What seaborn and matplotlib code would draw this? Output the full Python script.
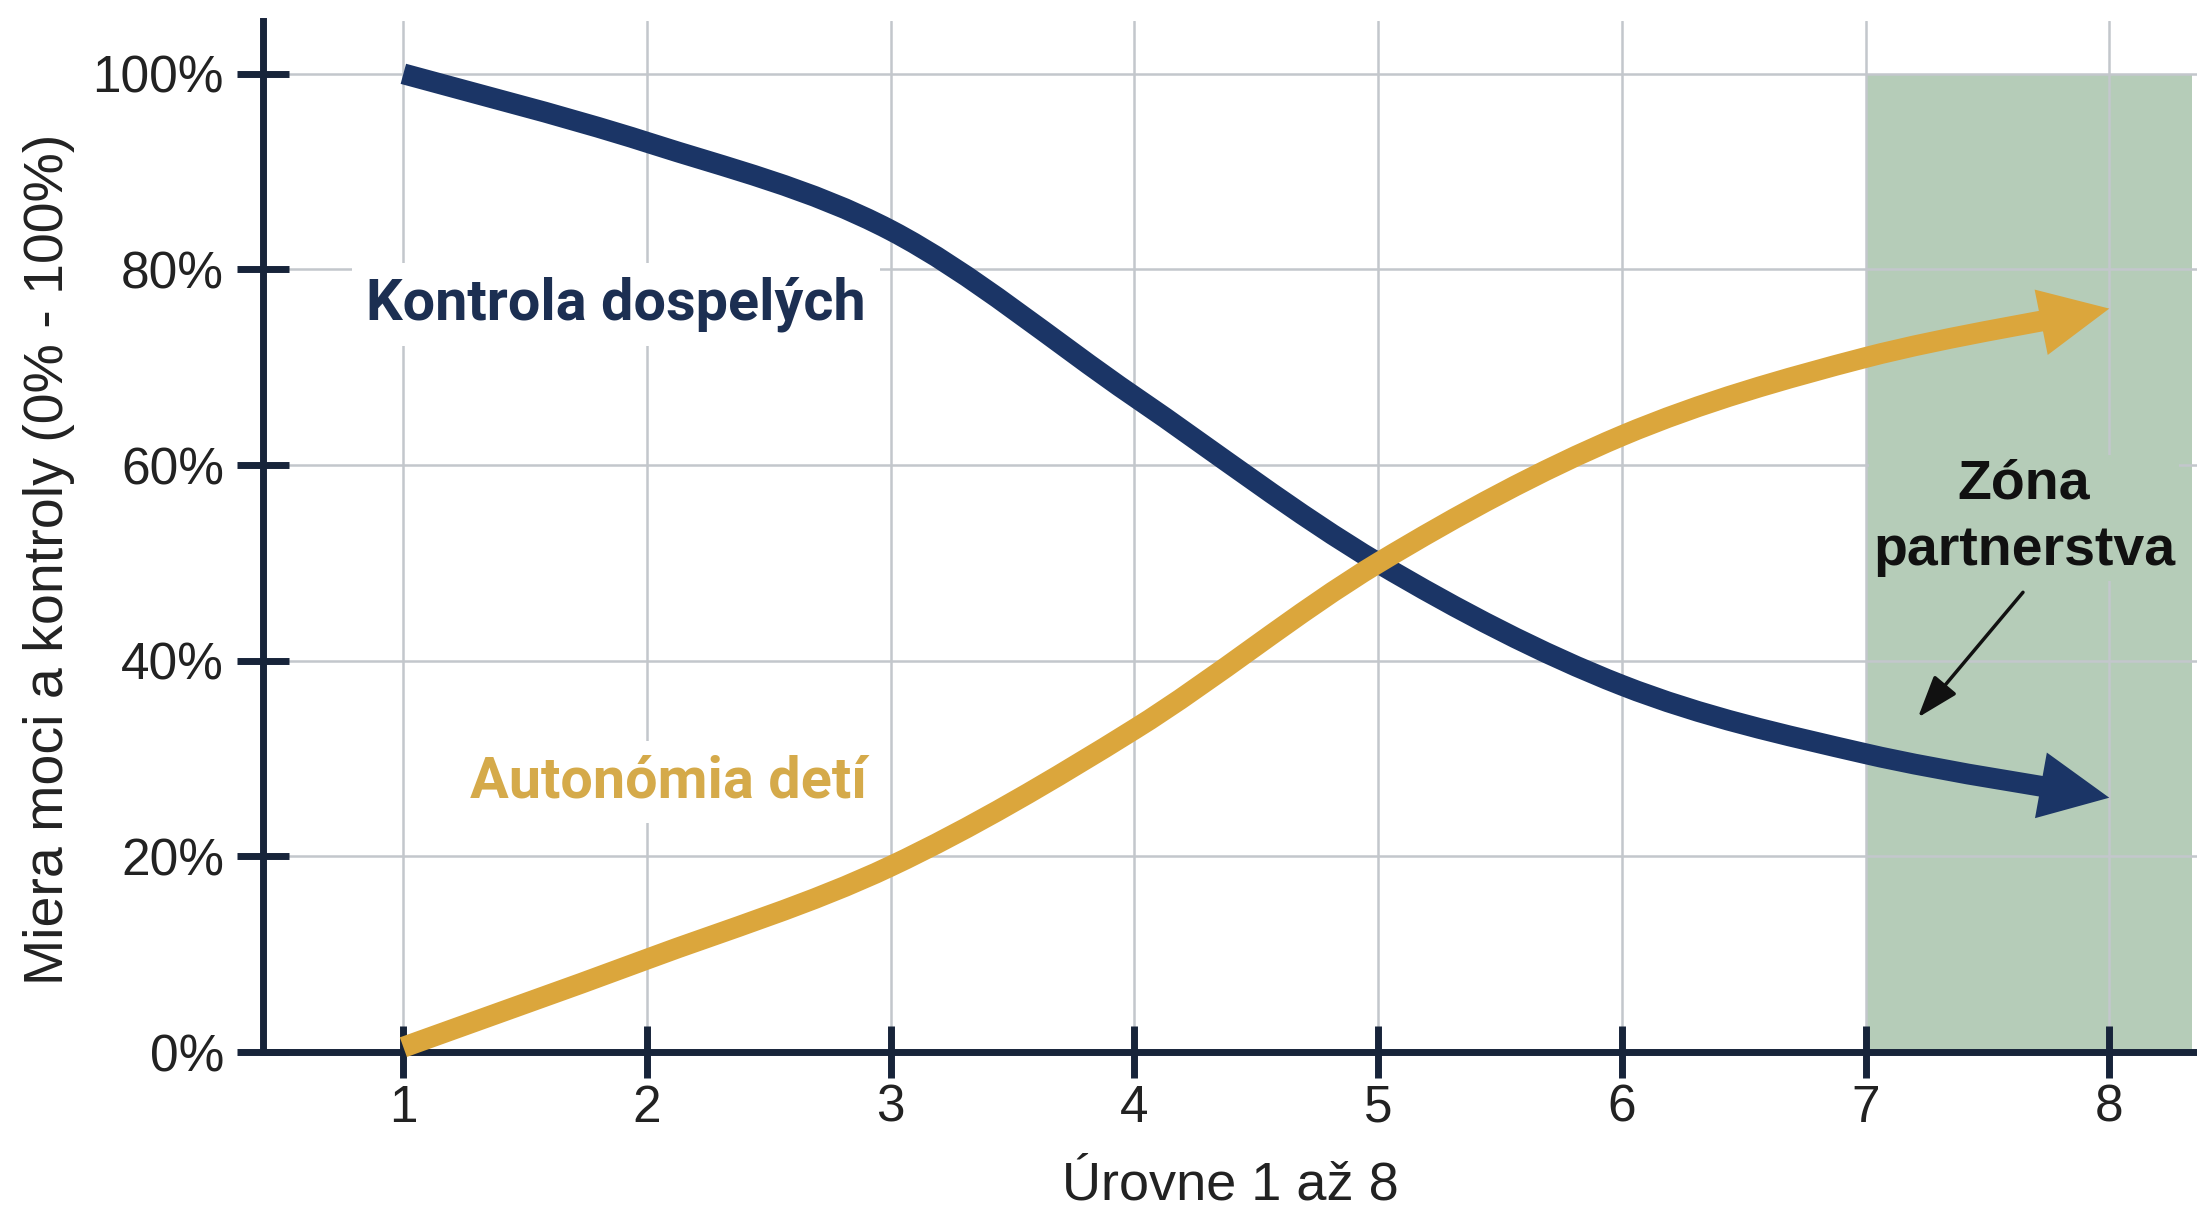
import numpy as np
import matplotlib
matplotlib.use("Agg")
import matplotlib.pyplot as plt
from matplotlib.path import Path
from matplotlib.patches import PathPatch, Rectangle
import seaborn as sns

# data
levels = [1, 2, 3, 4, 5, 6, 7, 8]
kontrola = [100, 93, 84, 67, 50, 37.5, 30.5, 26]
autonomia = [0.5, 9.5, 19, 33, 50, 63, 71, 76]
y_ticks = [0, 20, 40, 60, 80, 100]
y_labels = ["0%", "20%", "40%", "60%", "80%", "100%"]

navy = "#1b3566"
gold = "#dba63c"
axis_col = "#17243a"
zone_col = "#b5ccb8"

sns.set_theme(style="whitegrid")
plt.rcParams["font.family"] = ["Liberation Sans", "DejaVu Sans"]


def smooth_path(xs, ys):
    # catmull-rom through the points, written as cubic bezier segments
    pts = np.column_stack([xs, ys]).astype(float)
    n = len(pts)
    verts = [pts[0]]
    codes = [Path.MOVETO]
    for i in range(n - 1):
        p0 = pts[max(i - 1, 0)]
        p3 = pts[min(i + 2, n - 1)]
        c1 = pts[i] + (pts[i + 1] - p0) / 6
        c2 = pts[i + 1] - (p3 - pts[i]) / 6
        verts += [c1, c2, pts[i + 1]]
        codes += [Path.CURVE4] * 3
    return Path(verts, codes)


fig = plt.figure(figsize=(21.97, 12.14), dpi=100)
ax = fig.add_axes([0.1197, 0.1334, 0.8803, 0.8493])
ax.set_xlim(0.424, 8.36)
ax.set_ylim(0, 105.4)
ax.set_axisbelow(True)

# partnership zone
ax.fill_between([7, 8.34], 0, 100, color=zone_col, lw=0, zorder=0.3)


def arrow_curve(ys, color):
    body = PathPatch(smooth_path(levels, ys), fill=False, lw=15, edgecolor=color,
                     capstyle="butt", joinstyle="round", zorder=3)
    ax.add_patch(body)
    clip = Rectangle((0, -50), 7.8, 200, transform=ax.transData)
    body.set_clip_path(clip)
    ax.annotate("", xy=(levels[-1], ys[-1]), xytext=(levels[-2], ys[-2]),
                arrowprops=dict(arrowstyle="-|>,head_length=5.0,head_width=2.4",
                                mutation_scale=10, lw=0, color=color,
                                shrinkA=0, shrinkB=0),
                zorder=4)


arrow_curve(kontrola, navy)
arrow_curve(autonomia, gold)

ax.text(1.873, 76.4, "Kontrola dospelých", ha="center", va="center", fontsize=41.5,
        weight="bold", color="#1c2f52", family=["Roboto", "DejaVu Sans"], zorder=5,
        bbox=dict(fc="white", ec="none", pad=10))
ax.text(2.086, 27.6, "Autonómia detí", ha="center", va="center", fontsize=41.5,
        weight="bold", color="#d5aa4a", family=["Roboto", "DejaVu Sans"], zorder=5,
        bbox=dict(fc="white", ec="none", pad=10))
ax.text(7.65, 54.6, "Zóna\npartnerstva", ha="center", va="center", fontsize=40,
        weight="bold", color="#111111", linespacing=1.35, zorder=5,
        bbox=dict(fc=zone_col, ec="none", pad=3))
ax.annotate("", xy=(7.215, 34.2), xytext=(7.646, 47.0),
            arrowprops=dict(arrowstyle="-|>,head_length=2.6,head_width=0.9",
                            mutation_scale=10, lw=2.5, color="#111111",
                            shrinkA=0, shrinkB=0),
            zorder=5)

ax.set_xticks(levels)
ax.set_yticks(y_ticks)
ax.set_yticklabels(y_labels)
ax.grid(True, color="#c3c7cc", lw=1.8)

sns.despine(ax=ax)
for s in ["left", "bottom"]:
    ax.spines[s].set_color(axis_col)
    ax.spines[s].set_linewidth(5)
ax.tick_params(axis="both", direction="inout", length=37, width=5, color=axis_col,
               labelsize=37, labelcolor="#222222", bottom=True, left=True)
ax.tick_params(axis="y", pad=9.5)
ax.tick_params(axis="x", pad=4.5)

ax.set_xlabel("Úrovne 1 až 8", fontsize=39, color="#222222")
ax.set_ylabel("Miera moci a kontroly (0% - 100%)", fontsize=40, color="#222222")
ax.xaxis.set_label_coords(0.5, -0.105)
ax.yaxis.set_label_coords(-0.097, 0.478)

fig.savefig("out.png", dpi=100)
